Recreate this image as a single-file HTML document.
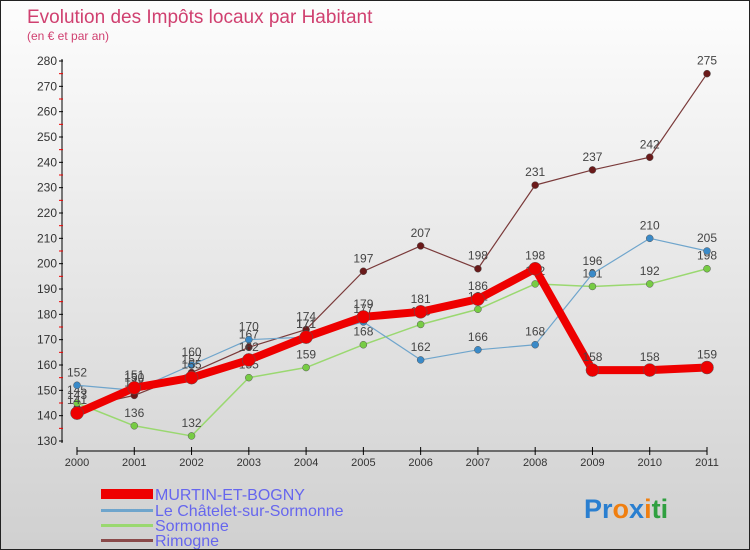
<!DOCTYPE html>
<html><head><meta charset="utf-8"><style>
body{margin:0}
#c{width:750px;height:550px;position:relative;font-family:"Liberation Sans",sans-serif;background:linear-gradient(#fdfdfd,#d0d0d0);box-sizing:border-box;border:1px solid #222;overflow:hidden}
</style></head><body>
<div id="c">
<svg id="s" width="748" height="548" xmlns="http://www.w3.org/2000/svg" style="position:absolute;left:0;top:0">
<text x="26" y="22" font-size="19" fill="#d04070">Evolution des Impôts locaux par Habitant</text>
<text x="26" y="39" font-size="12" fill="#d04070">(en € et par an)</text>
<g id="axes"></g><g id="series"></g>
<g>
<rect x="100" y="488" width="52" height="10" fill="#e00"/>
<text x="154" y="499" font-size="16" fill="#6666ee">MURTIN-ET-BOGNY</text>
<rect x="100" y="508" width="52" height="3" fill="#6fa5cc"/>
<text x="154" y="515" font-size="16" fill="#6666ee">Le Châtelet-sur-Sormonne</text>
<rect x="100" y="523" width="52" height="3" fill="#9ad870"/>
<text x="154" y="530" font-size="16" fill="#6666ee">Sormonne</text>
<rect x="100" y="538" width="52" height="3" fill="#8a4a4a"/>
<text x="154" y="545" font-size="16" fill="#6666ee">Rimogne</text>
</g>
<text x="583" y="517" font-size="27" font-weight="bold"><tspan fill="#2a7fd0">Pr</tspan><tspan fill="#f07f10">o</tspan><tspan fill="#2a7fd0">x</tspan><tspan fill="#f07f10">i</tspan><tspan fill="#30a040">ti</tspan></text>
</svg></div>
<script>
const years=[2000,2001,2002,2003,2004,2005,2006,2007,2008,2009,2010,2011];
const yTicks=[130,140,150,160,170,180,190,200,210,220,230,240,250,260,270,280];
const murtin=[141,151,155,162,171,179,181,186,198,158,158,159];
const chatelet=[152,150,160,170,171,177,162,166,168,196,210,205];
const sormonne=[145,136,132,155,159,168,176,182,192,191,192,198];
const rimogne=[143,148,157,167,174,197,207,198,231,237,242,275];
const NS="http://www.w3.org/2000/svg";
const X=i=>76+i*(630/11);
const Y=v=>440-(v-130)*(380/150);
function mk(t,a,p){const e=document.createElementNS(NS,t);for(const k in a)e.setAttribute(k,a[k]);p.appendChild(e);return e;}
const ax=document.getElementById('axes');
let l=mk('line',{x1:61,y1:58,x2:61,y2:442,stroke:'#000','stroke-width':1},ax);


l=mk('line',{x1:76,y1:450,x2:706,y2:450,stroke:'#000','stroke-width':1},ax);


yTicks.forEach((v,i)=>{
 mk('line',{x1:58,y1:Y(v),x2:62,y2:Y(v),stroke:'#000'},ax);
 if(i<yTicks.length-1)mk('line',{x1:58,y1:Y(v+5),x2:62,y2:Y(v+5),stroke:'#e00'},ax);
 const t=mk('text',{x:56,y:Y(v)+4,'font-size':12,fill:'#333','text-anchor':'end'},ax);t.textContent=v;
 
 
});
years.forEach((y,i)=>{
 mk('line',{x1:X(i),y1:446,x2:X(i),y2:454,stroke:'#000'},ax);
 const t=mk('text',{x:X(i),y:465,'font-size':11,fill:'#333','text-anchor':'middle'},ax);t.textContent=y;
 
 
});
const sg=document.getElementById('series');
function draw(data,name,color,w,r,fill){
 const g=mk('g',{},sg);
 
 
 mk('polyline',{points:data.map((v,i)=>X(i)+','+Y(v)).join(' '),fill:'none',stroke:color,'stroke-width':w,'stroke-linejoin':'round'},g);
 data.forEach((v,i)=>{
  const c=mk('circle',{cx:X(i),cy:Y(v),r:r,fill:fill,stroke:'#555','stroke-width':0.5},g);
  
  
  const t=mk('text',{x:X(i),y:Y(v)-9,'font-size':12,fill:'#444','text-anchor':'middle'},g);t.textContent=v;
 });
}
draw(rimogne,'rimogne','#7a3a3a',1.2,3.5,'#6a1a1a');
draw(sormonne,'sormonne','#9ad870',1.5,3.5,'#77cc44');
draw(chatelet,'chatelet','#6fa5cc',1.2,3.5,'#3a8ac8');
draw(murtin,'murtin','#ee0000',8,6.5,'#ee0000');
</script>
</body></html>
